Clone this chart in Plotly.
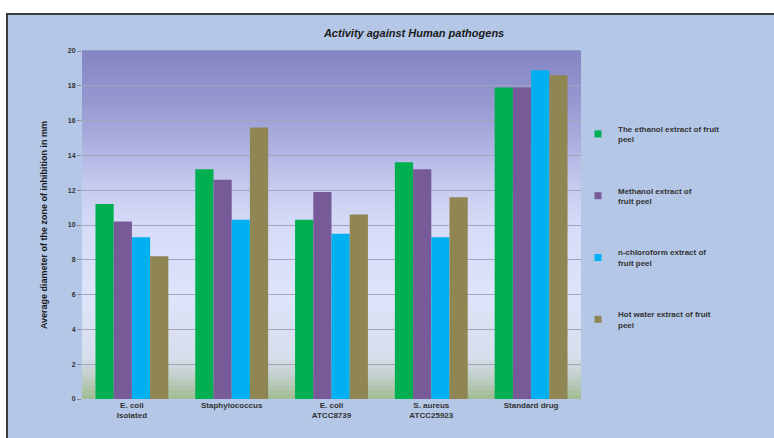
import plotly.graph_objects as go

categories = ["E. coli<br>Isolated", "Staphylococcus", "E. coli<br>ATCC8739", "S. aureus<br>ATCC25923", "Standard drug"]
series_names = [
    "The ethanol extract of fruit<br>peel",
    "Methanol extract of<br>fruit peel",
    "n-chloroform extract of<br>fruit peel",
    "Hot water extract of fruit<br>peel",
]
ethanol = [11.2, 13.2, 10.3, 13.6, 17.9]
methanol = [10.2, 12.6, 11.9, 13.2, 17.9]
chloroform = [9.3, 10.3, 9.5, 9.3, 18.9]
water = [8.2, 15.6, 10.6, 11.6, 18.6]
y_ticks = [0, 2, 4, 6, 8, 10, 12, 14, 16, 18, 20]

colors = ["#00b050", "#775a98", "#00b0f0", "#8f8654"]
values = [ethanol, methanol, chloroform, water]

fig = go.Figure()
for i, (name, vals) in enumerate(zip(series_names, values)):
    fig.add_trace(go.Bar(
        x=categories, y=vals, name=name, marker=dict(color=colors[i], line=dict(width=0)),
        legendgroup=f"g{i}", showlegend=False,
    ))
for i, name in enumerate(series_names):
    fig.add_trace(go.Scatter(
        x=[None], y=[None], mode="markers", name=name,
        marker=dict(symbol="square", size=7, color=colors[i]),
        legendgroup=f"g{i}", showlegend=True,
    ))

L, R, T, B = 82, 193, 51, 39
W, H = 774, 438
pw, ph = W - L - R, H - T - B

def px_x(px):
    return (px - L) / pw

def px_y(py):
    return (H - B - py) / ph

shapes = [dict(type="rect", xref="paper", yref="paper",
               x0=px_x(7), x1=px_x(790), y0=px_y(460), y1=px_y(14),
               fillcolor="#b4c7e7", line=dict(color="#3a3a3a", width=2), layer="below")]

stops = [
    (0.0, (160, 188, 145)),
    (0.06, (192, 206, 198)),
    (0.12, (215, 222, 236)),
    (0.30, (222, 228, 250)),
    (0.50, (214, 219, 248)),
    (0.60, (200, 205, 240)),
    (0.72, (176, 179, 226)),
    (0.85, (150, 152, 208)),
    (1.0, (132, 134, 196)),
]

def col_at(f):
    for (a, ca), (b, cb) in zip(stops[:-1], stops[1:]):
        if a <= f <= b:
            t = (f - a) / (b - a)
            return "rgb(%d,%d,%d)" % tuple(round(ca[k] + (cb[k] - ca[k]) * t) for k in range(3))
    return "rgb(%d,%d,%d)" % stops[-1][1]

n = 80
for i in range(n):
    y0 = i / n
    y1 = (i + 1) / n
    shapes.append(dict(type="rect", xref="paper", yref="paper", x0=0, x1=1,
                       y0=y0, y1=y1 + 0.002, fillcolor=col_at((y0 + y1) / 2),
                       line=dict(width=0), layer="below"))

fig.update_layout(
    width=W, height=H,
    margin=dict(l=L, r=R, t=T, b=B),
    paper_bgcolor="white",
    plot_bgcolor="rgba(0,0,0,0)",
    shapes=shapes,
    barmode="group",
    bargap=0.27,
    bargroupgap=0,
    title=dict(text="<i>Activity against Human pathogens</i>", x=0.535, xanchor="center",
               y=1 - 33 / H, yanchor="middle",
               font=dict(family="Liberation Sans", size=11, color="#1a1a1a", weight="bold")),
    font=dict(family="Liberation Sans", color="#262626"),
    legend=dict(x=px_x(578), y=px_y(117), xanchor="left", yanchor="top",
                bgcolor="rgba(0,0,0,0)", tracegroupgap=38,
                font=dict(size=8, color="#333333", weight="bold"),
                itemwidth=30),
    yaxis=dict(range=[0, 20], tickvals=y_ticks, showgrid=True, gridcolor="#a4a4bc", gridwidth=1,
               ticks="outside", ticklen=4, tickcolor="#8a8a9a",
               tickfont=dict(size=7, color="#333333", weight="bold"),
               title=dict(text="Average diameter of the zone of inhibition in mm", standoff=18,
                          font=dict(size=9, color="#1a1a1a", weight="bold")),
               zeroline=False, showline=False),
    xaxis=dict(tickfont=dict(size=8, color="#333333", weight="bold"), showline=False,
               ticks="", showgrid=False),
)

fig.write_html("out.html")
